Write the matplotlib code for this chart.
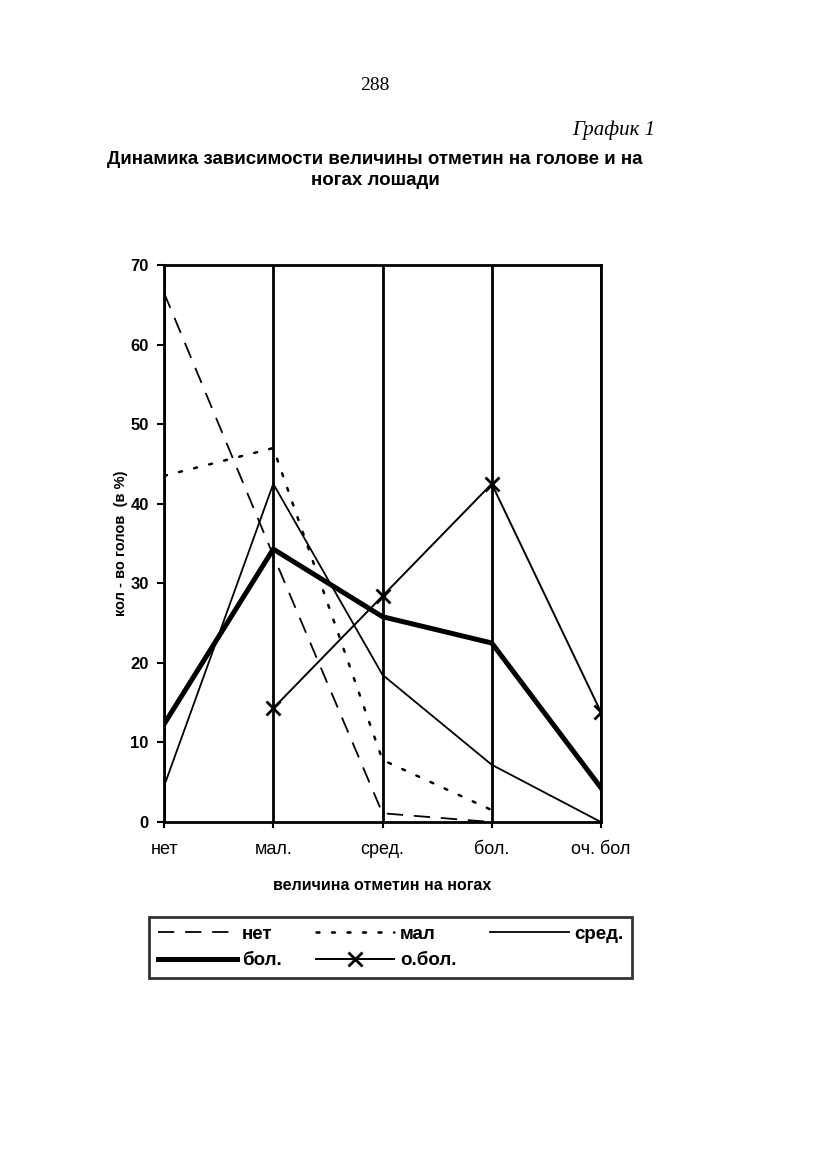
import numpy as np
import matplotlib
matplotlib.use('Agg')
import matplotlib.pyplot as plt

# категории по оси X и значения серий (в %)
categories = ['нет', 'мал.', 'сред.', 'бол.', 'оч. бол']
net = [66.5, 33.5, 1.1, 0.0, np.nan]
mal = [43.5, 47.0, 7.8, 1.5, np.nan]
sred = [4.5, 42.5, 18.5, 7.2, 0.0]
bol = [12.3, 34.3, 25.8, 22.5, 4.3]
obol = [np.nan, 14.3, 28.4, 42.5, 13.8]
yticks = [0, 10, 20, 30, 40, 50, 60, 70]

plt.rcParams['font.family'] = ['Liberation Sans', 'DejaVu Sans']

fig = plt.figure(figsize=(8.37, 11.69), dpi=100)
ax = fig.add_axes([0.196, 0.2968, 0.522, 0.4765])

x = np.arange(len(categories))
l1, = ax.plot(x, net, color='black', lw=1.3, dashes=(9, 6), label='нет')
l2, = ax.plot(x, mal, color='black', lw=1.8, dashes=(1.2, 5), dash_capstyle='round', label='мал')
l3, = ax.plot(x, sred, color='black', lw=1.3, label='сред.')
l4, = ax.plot(x, bol, color='black', lw=3.6, label='бол.')
l5, = ax.plot(x, obol, color='black', lw=1.4, marker='x', ms=10, mew=2, label='о.бол.')

ax.set_xlim(0, 4)
ax.set_ylim(0, 70)
ax.set_xticks(x)
ax.set_xticklabels(categories, fontsize=13)
ax.set_yticks(yticks)
ax.set_yticklabels([str(v) for v in yticks], fontsize=12, fontweight='bold')
ax.tick_params(axis='x', length=4, width=1.5, pad=10)
ax.tick_params(axis='y', length=5, width=1.5, pad=6)
ax.grid(axis='x', color='black', lw=2)
for s in ax.spines.values():
    s.set_linewidth(2)

ax.set_ylabel('кол - во голов  (в %)', fontsize=10.5, fontweight='bold', labelpad=2)
ax.set_xlabel('величина отметин на ногах', fontsize=11.5, fontweight='bold', labelpad=14)

# легенда в рамке под графиком
leg = fig.legend([l1, l4, l2, l5, l3], ['нет', 'бол.', 'мал', 'о.бол.', 'сред.'],
                 ncol=3, loc='upper left', bbox_to_anchor=(140 / 837, 1 - 908 / 1169),
                 frameon=True, fancybox=False, edgecolor='black', handlelength=4.2,
                 handletextpad=0.3, columnspacing=1.8, borderpad=0.45,
                 prop={'size': 13.5, 'weight': 'bold'})
leg.get_frame().set_linewidth(2)

# подписи страницы
fig.text(375 / 837, 1 - 85 / 1169, '288', ha='center', va='center',
         fontsize=14, family='Liberation Serif')
fig.text(655 / 837, 1 - 130 / 1169, 'График 1', ha='right', va='center',
         fontsize=15, style='italic', family='Liberation Serif')
fig.text(375 / 837, 1 - 170 / 1169, 'Динамика зависимости величины отметин на голове и на\nногах лошади',
         ha='center', va='center', fontsize=13.5, fontweight='bold', linespacing=1.3)

fig.savefig('out.png', dpi=100, facecolor='white')
